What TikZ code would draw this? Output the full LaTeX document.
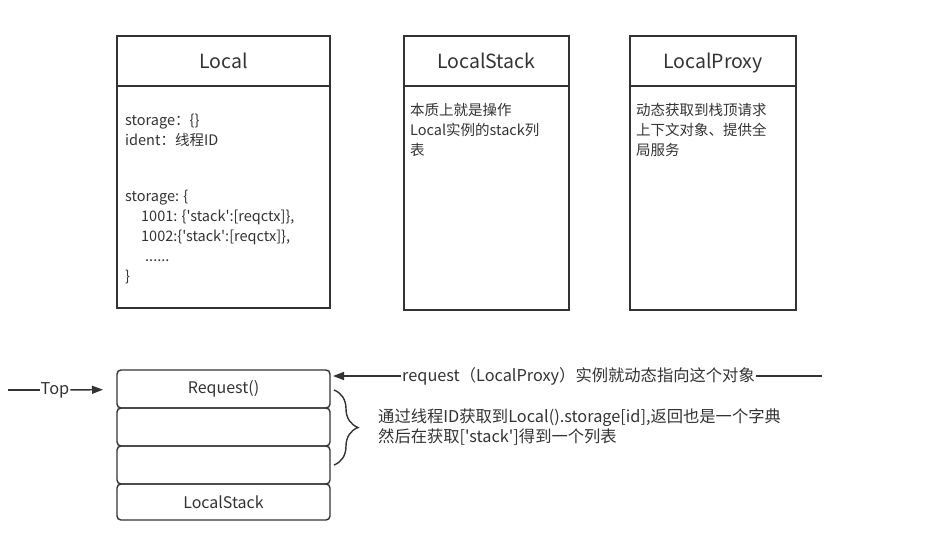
\documentclass[tikz,border=0pt]{standalone}
\usepackage{fontspec}
\setmainfont{Noto Sans CJK SC}[Ligatures=TeXOff]
\usetikzlibrary{arrows.meta,positioning,calc,decorations.pathreplacing}
\definecolor{cLine}{HTML}{333333}

\begin{document}
\begin{tikzpicture}[x=1pt, y=-1pt,
    hdr/.style={rectangle, draw=cLine, line width=1.6pt, minimum height=50pt, font=\fontsize{19.5}{22}\selectfont, text=cLine, text height=15pt, text depth=1pt, anchor=north west, inner sep=0pt, outer sep=0pt},
    bdy/.style={rectangle, draw=cLine, line width=1.6pt, inner sep=0pt, outer sep=0pt},
    txt/.style={anchor=north west, align=left, inner sep=0pt, font=\fontsize{14.5}{20}\selectfont, text=cLine},
    cell/.style={rectangle, draw=cLine, line width=1.4pt, rounded corners=4pt, minimum width=213pt, minimum height=38pt, font=\fontsize{16}{20}\selectfont, text=cLine, inner sep=0pt, outer sep=0pt},
    lbl/.style={inner sep=1pt, font=\fontsize{16.3}{20}\selectfont, text=cLine},
    arr/.style={-{Triangle[length=11pt,width=8pt]}, line width=1.4pt, cLine}
]
\useasboundingbox (0,0) rectangle (929,539);

% the three classes
\node[hdr, minimum width=213pt] (local) at (117,36) {Local};
\node[bdy, minimum width=213pt, minimum height=222pt, below=0pt of local] (localB) {};
\node[hdr, minimum width=165pt] (stack) at (404,36) {LocalStack};
\node[bdy, minimum width=165pt, minimum height=224pt, below=0pt of stack] (stackB) {};
\node[hdr, minimum width=166pt] (proxy) at (630,36) {LocalProxy};
\node[bdy, minimum width=166pt, minimum height=224pt, below=0pt of proxy] (proxyB) {};

\node[txt] (localT) at ($(localB.north west)+(8,28)$) {storage：\{\}\\ident：线程ID\\[36pt]storage: \{\\\hspace*{16pt}1001: \{'stack':[reqctx]\},\\\hspace*{16pt}1002:\{'stack':[reqctx]\},\\\hspace*{20pt}......\\\}};
\node[txt] (stackT) at ($(stackB.north west)+(6,17)$) {本质上就是操作\\Local实例的stack列\\表};
\node[txt] (proxyT) at ($(proxyB.north west)+(6,17)$) {动态获取到栈顶请求\\上下文对象、提供全\\局服务};

% the stack
\node[cell, anchor=north west] (s1) at (117,370) {Request()};
\node[cell, below=0pt of s1] (s2) {};
\node[cell, below=0pt of s2] (s3) {};
\node[cell, minimum height=36pt, below=0pt of s3] (s4) {LocalStack};

% pointers
\coordinate (topL) at (8,390);
\node[lbl] (top) at (55,390) {Top};
\draw[cLine, line width=1.4pt] (topL) -- (top);
\draw[arr, shorten >=14pt] (top) -- (s1);

\coordinate (reqR) at (822,376);
\node[lbl, anchor=west] (req) at (401,376) {request（LocalProxy）实例就动态指向这个对象};
\draw[cLine, line width=1.4pt] (reqR) -- (req.east);
\draw[arr, shorten >=3pt] (req.west) -- (req.west -| s1.east);

\coordinate (b1) at (334,390);
\coordinate (b2) at (334,465);
\draw[cLine, line width=1.4pt, decorate, decoration={brace, amplitude=24pt, aspect=0.5}] (b1) -- (b2);
\node[txt, anchor=west, font=\fontsize{16.3}{20.5}\selectfont] (note) at (378,427) {通过线程ID获取到Local().storage[id],返回也是一个字典\\然后在获取['stack']得到一个列表};
\end{tikzpicture}
\end{document}
